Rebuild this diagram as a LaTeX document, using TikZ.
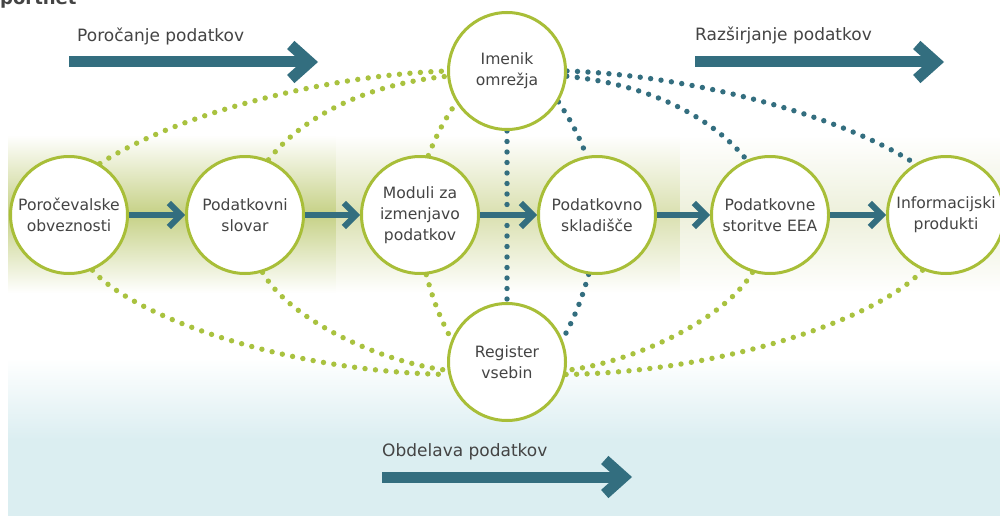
\documentclass[tikz,border=0pt]{standalone}
\usepackage{fontspec}
\setmainfont{DejaVu Sans}
\usetikzlibrary{arrows.meta}
\definecolor{eeagreen}{HTML}{A8BE38}
\definecolor{dotgreen}{HTML}{A9C23F}
\definecolor{eeablue}{HTML}{336E7F}
\definecolor{txtgray}{HTML}{444444}
\definecolor{bandA}{HTML}{C6D186}
\definecolor{bandB}{HTML}{DAE0B0}
\definecolor{bandC}{HTML}{EDF0DB}
\definecolor{skyblue}{HTML}{DBEEF1}
\pgfdeclarelayer{back}
\pgfdeclarelayer{dots}
\pgfsetlayers{back,dots,main}
\tikzset{
  proc/.style={circle, draw=eeagreen, line width=3pt, fill=white, minimum size=117pt,
    inner sep=0pt, align=center, text=txtgray, font=\fontsize{15.6}{21}\selectfont},
  flow/.style={draw=eeablue, line width=6pt, -{Straight Barb[length=12pt,width=24pt,sharp]}},
  bigflow/.style={draw=eeablue, line width=11pt, -{Straight Barb[length=19pt,width=34pt,sharp]}},
  phase/.style={anchor=base west, inner sep=0pt, text=txtgray, font=\fontsize{17}{20}\selectfont},
  gdots/.style={draw=dotgreen, line width=5.4pt, line cap=round, dash pattern=on 0pt off 10.5pt},
  bdots/.style={gdots, draw=eeablue},
  bandbox/.style={top color=white, bottom color=white},
}
\begin{document}
\begin{tikzpicture}[x=1pt, y=-1pt]
\useasboundingbox (0,0) rectangle (1000,516);

% backgrounds
\begin{pgfonlayer}{back}
  \fill[white] (0,0) rectangle (1000,516);
  \shade[bandbox, middle color=bandA] (8,135) rectangle (336,293);
  \shade[bandbox, middle color=bandB] (336,135) rectangle (680,293);
  \shade[bandbox, middle color=bandC] (680,135) rectangle (1000,293);
  \shade[top color=white, bottom color=skyblue] (8,358) rectangle (1000,440);
  \fill[skyblue] (8,439.5) rectangle (1000,516);
\end{pgfonlayer}

% title fragment
\node[anchor=base west, inner sep=0pt, text=txtgray, font=\bfseries\fontsize{18}{20}\selectfont] (ttl) at (0,5) {portnet};

% circles
\node[proc] (P1) at (69,215)  {Poročevalske\\obveznosti};
\node[proc] (P2) at (245,215) {Podatkovni\\slovar};
\node[proc] (P3) at (420,215) {Moduli za\\izmenjavo\\podatkov};
\node[proc] (P4) at (597,215) {Podatkovno\\skladišče};
\node[proc] (P5) at (770,215) {Podatkovne\\storitve EEA};
\node[proc] (P6) at (946,215) {Informacijski\\produkti};
\node[proc] (IM) at (507,71)  {Imenik\\omrežja};
\node[proc] (RV) at (507,362) {Register\\vsebin};

% flow arrows
\draw[flow] (P1) -- (P2);
\draw[flow] (P2) -- (P3);
\draw[flow] (P3) -- (P4);
\draw[flow] (P4) -- (P5);
\draw[flow] (P5) -- (P6);

% dotted relations
\begin{pgfonlayer}{dots}
  \draw[gdots] (P1.59) .. controls (180,112) and (330,75) .. (IM.180);
  \draw[gdots] (P2.67) .. controls (300,120) and (360,85) .. (IM.185);
  \draw[gdots] (P3.82) to[bend left=6] (IM.212);
  \draw[bdots] (IM.south) -- (RV.north);
  \draw[bdots] (IM.-31) to[bend left=6] (P4.100);
  \draw[bdots] (IM.-5) .. controls (654,85) and (714,120) .. (P5.113);
  \draw[bdots] (IM.0) .. controls (684,75) and (834,112) .. (P6.121);
  \draw[gdots] (P1.-67) .. controls (135,318) and (290,372) .. (RV.192);
  \draw[gdots] (P2.-73) .. controls (290,320) and (380,362) .. (RV.188);
  \draw[gdots] (P3.-84) to[bend right=6] (RV.158);
  \draw[bdots] (P4.-98) to[bend left=6] (RV.22);
  \draw[gdots] (P5.-107) .. controls (724,320) and (634,362) .. (RV.-8);
  \draw[gdots] (P6.-113) .. controls (879,318) and (724,372) .. (RV.-12);
\end{pgfonlayer}

% phase arrows
\coordinate (a0) at (69,62);  \coordinate (a1) at (318,62);
\coordinate (b0) at (695,62); \coordinate (b1) at (944,62);
\coordinate (c0) at (382,477); \coordinate (c1) at (632,477);
\draw[bigflow] (a0) -- (a1);
\draw[bigflow] (b0) -- (b1);
\draw[bigflow] (c0) -- (c1);
\node[phase] (la) at (77,42)  {Poročanje podatkov};
\node[phase] (lb) at (695,41) {Razširjanje podatkov};
\node[phase] (lc) at (382,456) {Obdelava podatkov};
\end{tikzpicture}
\end{document}
